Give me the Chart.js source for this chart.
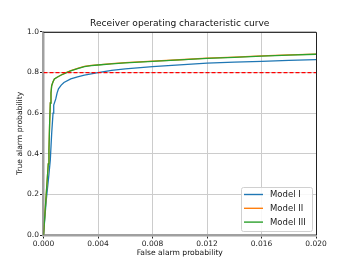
<!DOCTYPE html>
<html>
<head>
<meta charset="utf-8">
<script src="https://cdn.jsdelivr.net/npm/chart.js"></script>
<style>
  html, body { margin: 0; padding: 0; background: #fff; }
  canvas { display: block; }
</style>
</head>
<body>
<canvas id="rocChart" width="352" height="264"></canvas>
<script>
//--------------------------------------
// ROC curves, three models
//--------------------------------------

var fprModel1 = [0, 0.0002, 0.0004, 0.0005, 0.0006, 0.0007, 0.00075, 0.0009, 0.001, 0.0011, 0.0013, 0.0015, 0.002, 0.0025, 0.003, 0.004, 0.005, 0.006, 0.008, 0.010, 0.012, 0.014, 0.016, 0.018, 0.020];
var tprModel1 = [0, 0.17,   0.30,   0.37,   0.50,   0.60,   0.64,    0.67,   0.70,  0.72,   0.738,  0.751,  0.769, 0.779,  0.787, 0.800, 0.811, 0.818, 0.829, 0.838, 0.846, 0.851, 0.855, 0.860, 0.864];

var fprModel2 = [0, 0.0002, 0.00035, 0.0004, 0.00045, 0.0005, 0.00055, 0.0006, 0.0007, 0.0008, 0.001, 0.0013, 0.0017, 0.002, 0.0025, 0.003, 0.0035, 0.004, 0.005, 0.006, 0.008, 0.010, 0.012, 0.014, 0.016, 0.018, 0.020];
var tprModel2 = [0, 0.20,   0.35,    0.42,   0.55,    0.65,   0.70,    0.735,  0.755,  0.768,  0.777, 0.788,  0.801,  0.809, 0.820,  0.830, 0.835,  0.838, 0.844, 0.849, 0.856, 0.863, 0.871, 0.876, 0.882, 0.887, 0.891];

var fprModel3 = [0, 0.0002, 0.00035, 0.0004, 0.00045, 0.0005, 0.00055, 0.0006, 0.0007, 0.0008, 0.001, 0.0013, 0.0017, 0.002, 0.0025, 0.003, 0.0035, 0.004, 0.005, 0.006, 0.008, 0.010, 0.012, 0.014, 0.016, 0.018, 0.020];
var tprModel3 = [0, 0.20,   0.35,    0.42,   0.55,    0.65,   0.70,    0.735,  0.755,  0.768,  0.777, 0.788,  0.800,  0.808, 0.819,  0.829, 0.834,  0.837, 0.843, 0.848, 0.855, 0.862, 0.870, 0.875, 0.881, 0.886, 0.890];

var thresholdX = [0, 0.020];
var thresholdY = [0.8, 0.8];

var modelLabels = ["Model I", "Model II", "Model III"];
var modelColors = ["#1f77b4", "#ff7f0e", "#2ca02c"];

var xTickStep = 0.004;
var yTickStep = 0.2;

var fontFamily = "'DejaVu Sans', sans-serif";

function toPoints(xs, ys) {
    return xs.map(function(x, i) { return {x: x, y: ys[i]}; });
}

// top and right spines in black
var spinePlugin = {
    id: "spines",
    afterDatasetsDraw: function(chart) {
        var a = chart.chartArea, ctx = chart.ctx;
        ctx.save();
        ctx.strokeStyle = "#222";
        ctx.lineWidth = 1;
        ctx.beginPath();
        ctx.moveTo(a.left, a.top + 0.5);
        ctx.lineTo(a.right + 0.5, a.top + 0.5);
        ctx.lineTo(a.right + 0.5, a.bottom);
        ctx.stroke();
        ctx.restore();
    }
};

// matplotlib-like legend inside the plot, lower right
var insideLegend = {
    id: "insideLegend",
    afterDraw: function(chart) {
        var ctx = chart.ctx;
        var sets = chart.data.datasets.filter(function(d) { return d.inLegend; });
        var bx = 241, by = 187, bw = 71, bh = 44;
        ctx.save();
        ctx.fillStyle = "rgba(255,255,255,0.85)";
        ctx.strokeStyle = "#d0d0d0";
        ctx.lineWidth = 1;
        ctx.beginPath();
        ctx.roundRect(bx + 0.5, by + 0.5, bw, bh, 2);
        ctx.fill();
        ctx.stroke();
        ctx.font = "8.5px " + fontFamily;
        ctx.textBaseline = "middle";
        ctx.fillStyle = "#222";
        sets.forEach(function(d, i) {
            var yy = by + 7.5 + i * 13.8;
            ctx.strokeStyle = d.borderColor;
            ctx.lineWidth = 1.4;
            ctx.beginPath();
            ctx.moveTo(bx + 3, yy);
            ctx.lineTo(bx + 22, yy);
            ctx.stroke();
            ctx.fillText(d.label, bx + 29, yy + 0.5);
        });
        ctx.restore();
    }
};

var datasets = [
    { label: modelLabels[0], data: toPoints(fprModel1, tprModel1), borderColor: modelColors[0], order: 3, inLegend: true },
    { label: modelLabels[1], data: toPoints(fprModel2, tprModel2), borderColor: modelColors[1], order: 2, inLegend: true },
    { label: modelLabels[2], data: toPoints(fprModel3, tprModel3), borderColor: modelColors[2], order: 1, inLegend: true },
    { label: "threshold", data: toPoints(thresholdX, thresholdY), borderColor: "#ff0000", borderDash: [4, 2], order: 0, inLegend: false }
];
datasets.forEach(function(d) {
    d.borderWidth = 1.3;
    d.pointRadius = 0;
    d.tension = 0;
    d.fill = false;
});

var gridStyle = { color: "#cccccc", lineWidth: 1, tickColor: "#222", tickLength: 3.5, tickWidth: 1 };
var tickFont = { family: fontFamily, size: 7.5 };
var titleFont = { family: fontFamily, size: 7.6 };

new Chart(document.getElementById("rocChart"), {
    type: "line",
    data: { datasets: datasets },
    options: {
        responsive: false,
        animation: false,
        layout: { padding: { left: 0, right: 36, top: 0, bottom: 0 } },
        plugins: {
            legend: { display: false },
            tooltip: { enabled: false },
            title: {
                display: true,
                text: "Receiver operating characteristic curve",
                fullSize: false,
                color: "#111",
                font: { family: fontFamily, size: 9.1, weight: "normal" },
                padding: { top: 18, bottom: 3 }
            }
        },
        scales: {
            x: {
                type: "linear",
                min: 0,
                max: 0.02,
                grid: gridStyle,
                border: { color: "#a0a0a0", width: 2.5 },
                afterFit: function(scale) { scale.height = 29; },
                afterBuildTicks: function(scale) {
                    scale.ticks = [];
                    for (var i = 0; i <= 5; i++) { scale.ticks.push({ value: +(i * xTickStep).toFixed(3) }); }
                },
                ticks: {
                    color: "#222",
                    font: tickFont,
                    padding: 1,
                    maxRotation: 0,
                    callback: function(v) { return Number(v).toFixed(3); }
                },
                title: {
                    display: true,
                    text: "False alarm probability",
                    color: "#111",
                    font: titleFont,
                    padding: { top: 0, bottom: 6 }
                }
            },
            y: {
                type: "linear",
                min: 0,
                max: 1,
                grid: gridStyle,
                border: { color: "#a0a0a0", width: 2.5 },
                afterFit: function(scale) { scale.width = 43.5; },
                ticks: {
                    stepSize: yTickStep,
                    color: "#222",
                    font: tickFont,
                    padding: 1,
                    callback: function(v) { return Number(v).toFixed(1); }
                },
                title: {
                    display: true,
                    text: "True alarm probability",
                    color: "#111",
                    font: titleFont,
                    padding: { top: 15.5, bottom: 0 }
                }
            }
        }
    },
    plugins: [spinePlugin, insideLegend]
});
</script>
</body>
</html>
